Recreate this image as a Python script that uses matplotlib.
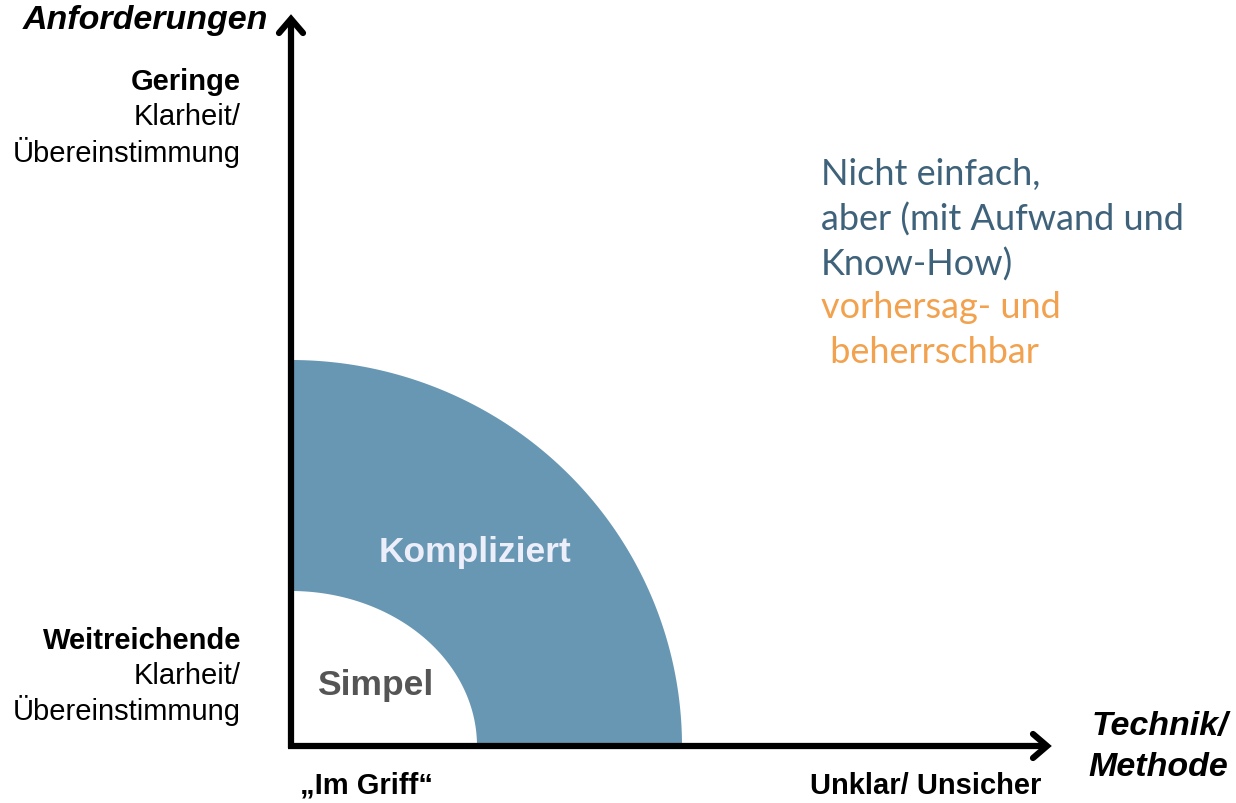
import numpy as np
import matplotlib
matplotlib.use("Agg")
import matplotlib.pyplot as plt
from matplotlib.patches import Polygon

# --- content ---
y_axis_title = "Anforderungen"
x_axis_title = ["Technik/", "Methode"]
y_top_label = ["Geringe", "Klarheit/", "Übereinstimmung"]
y_bottom_label = ["Weitreichende", "Klarheit/", "Übereinstimmung"]
x_left_label = "„Im Griff“"
x_right_label = "Unklar/ Unsicher"
zones = ["Simpel", "Kompliziert"]
note_blue = ["Nicht einfach,", "aber (mit Aufwand und", "Know-How)"]
note_orange = ["vorhersag- und", " beherrschbar"]

# zone extents (pixel units relative to origin): (horizontal, vertical)
inner_r = (186, 155)
outer_r = (391, 386)

W, H = 1236, 804
fig = plt.figure(figsize=(W / 100, H / 100), dpi=100)
ax = fig.add_axes([0, 0, 1, 1])
ax.set_xlim(0, W)
ax.set_ylim(H, 0)
ax.axis("off")

ox, oy = 291, 747
FONT = "Liberation Sans"

# annulus
t = np.linspace(0, np.pi / 2, 200)
outer = np.column_stack([ox + outer_r[0] * np.cos(t), oy - outer_r[1] * np.sin(t)])
inner = np.column_stack([ox + inner_r[0] * np.cos(t[::-1]), oy - inner_r[1] * np.sin(t[::-1])])
ax.add_patch(Polygon(np.vstack([outer, inner]), closed=True, facecolor="#6897b4", edgecolor="none", zorder=1))

# axes arrows
ax.plot([ox, ox], [oy + 2, 22], color="black", lw=4.5, solid_capstyle="butt", zorder=3)
ax.plot([ox - 3, 1046], [oy, oy], color="black", lw=4.5, solid_capstyle="butt", zorder=3)
ax.plot([ox - 12, ox, ox + 12], [34, 20, 34], color="black", lw=4.5, solid_joinstyle="miter", solid_capstyle="round", zorder=3)
ax.plot([1033, 1047, 1033], [735, 747, 759], color="black", lw=4.5, solid_joinstyle="miter", solid_capstyle="round", zorder=3)

# axis titles
ax.text(268, 20, y_axis_title, ha="right", va="center", fontsize=24.5, fontweight="bold",
        style="italic", family=FONT, color="black")
ax.text(1228, 727, x_axis_title[0], ha="right", va="center", fontsize=24.5, fontweight="bold",
        style="italic", family=FONT, color="black")
ax.text(1228, 768, x_axis_title[1], ha="right", va="center", fontsize=24.5, fontweight="bold",
        style="italic", family=FONT, color="black")

# y labels
for i, s in enumerate(y_top_label):
    ax.text(241, 82 + 35 * i, s, ha="right", va="center", fontsize=21,
            fontweight="bold" if i == 0 else "normal", family=FONT, color="black")
for i, s in enumerate(y_bottom_label):
    ax.text(241, 641 + 35 * i, s, ha="right", va="center", fontsize=21,
            fontweight="bold" if i == 0 else "normal", family=FONT, color="black")

# x labels
ax.text(300, 786, x_left_label, ha="left", va="center", fontsize=21, fontweight="bold", family=FONT, color="black")
ax.text(810, 786, x_right_label, ha="left", va="center", fontsize=21, fontweight="bold", family=FONT, color="black")

# zone labels
ax.text(317, 686, zones[0], ha="left", va="center", fontsize=25.5, fontweight="bold", family=FONT, color="#555555", zorder=4)
ax.text(379, 553, zones[1], ha="left", va="center", fontsize=25.5, fontweight="bold", family=FONT, color="#eceef9", zorder=4)

# handwritten-style note
NOTE_FONT = "Lato"
for i, s in enumerate(note_blue):
    ax.text(821, 175 + 45 * i, s, ha="left", va="center", fontsize=26, family=NOTE_FONT, color="#3f627b")
for i, s in enumerate(note_orange):
    ax.text(821, 308 + 45 * i, s, ha="left", va="center", fontsize=26, family=NOTE_FONT, color="#f2a24e")

fig.savefig("out.png", dpi=100, facecolor="white")
